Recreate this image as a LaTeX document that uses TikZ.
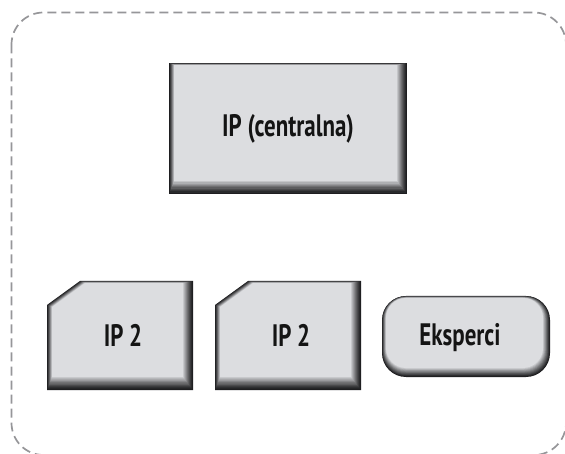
\documentclass[tikz,border=0pt]{standalone}
\usepackage{fontspec}
\setmainfont{PT Sans}[FakeStretch=0.74]
\definecolor{facecol}{RGB}{220,221,224}
\definecolor{darkcol}{RGB}{30,30,32}
\definecolor{framecol}{RGB}{150,150,153}
\tikzset{
  boxlabel/.style={anchor=base,inner sep=0pt,font=\bfseries\fontsize{31}{31}\selectfont,text=black!92},
  framebox/.style={draw=framecol,line width=1.7pt,dash pattern=on 9pt off 5pt,rounded corners=32pt}
}
% layered bevel: x1 y1 x2 y2
\newcommand\bevelrect[4]{%
  \foreach \i in {0,...,10}{%
    \pgfmathtruncatemacro\p{100*(\i/10)^1.2}%
    \fill[facecol!\p!darkcol] (#1+0.5*\i,#2+0.2*\i) rectangle (#3-1.0*\i,#4-1.3*\i);
  }}
% chamfered: x1 y1 x2 y2 ch cv
\newcommand\bevelcham[6]{%
  \foreach \i in {0,...,10}{%
    \pgfmathtruncatemacro\p{100*(\i/10)^1.2}%
    \fill[facecol!\p!darkcol] (#1+0.5*\i,#2+0.2*\i+#6) -- (#1+0.5*\i+#5,#2+0.2*\i) -- (#3-1.0*\i,#2+0.2*\i) -- (#3-1.0*\i,#4-1.3*\i) -- (#1+0.5*\i,#4-1.3*\i) -- cycle;
  }}
% rounded: x1 y1 x2 y2 radius
\newcommand\bevelround[5]{%
  \foreach \i in {0,...,10}{%
    \pgfmathtruncatemacro\p{100*(\i/10)^1.1}%
    \pgfmathsetmacro\rr{#5-0.4*\i}%
    \fill[facecol!\p!darkcol,rounded corners=\rr pt] (#1+0.4*\i,#2+0.2*\i) rectangle (#3-0.7*\i,#4-0.9*\i);
  }}
\begin{document}
\begin{tikzpicture}[x=1pt,y=-1pt]
\useasboundingbox (0,0) rectangle (565,454);
\clip (0,0) rectangle (565,454);
\fill[white] (0,0) rectangle (565,454);
\draw[framebox] (11.5,12.5) rectangle (566,455);
% central box
\bevelrect{169}{63}{407}{194}
\node[boxlabel] (central) at (288,137) {IP (centralna)};
% IP 2 boxes
\bevelcham{47}{281}{193}{390}{33}{24}
\node[boxlabel] (ipa) at (123,346) {IP 2};
\bevelcham{215}{281}{361}{390}{33}{24}
\node[boxlabel] (ipb) at (291,346) {IP 2};
% Eksperci
\bevelround{382}{296}{550}{377}{24}
\node[boxlabel] (eks) at (460,345) {Eksperci};
\end{tikzpicture}
\end{document}
